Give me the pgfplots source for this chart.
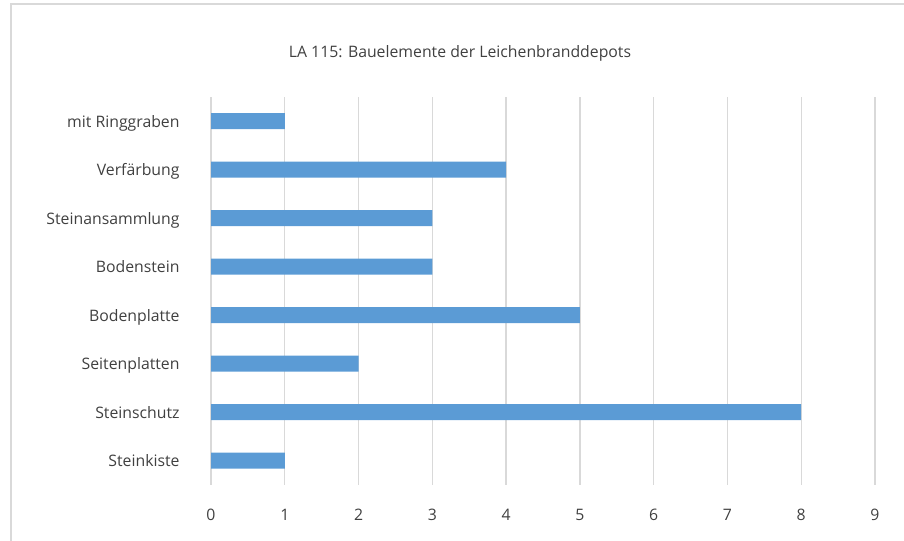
\documentclass[border=0pt]{standalone}
\usepackage{fontspec}
\setmainfont{Open Sans}
\usepackage{pgfplots}
\pgfplotsset{compat=1.18}
\definecolor{barblue}{HTML}{5B9BD5}
\definecolor{gridgray}{HTML}{D9D9D9}
\definecolor{txt}{HTML}{404040}
\begin{document}
\begin{tikzpicture}[x=1bp,y=1bp]
\useasboundingbox (0,0) rectangle (904,541);
\draw[gridgray, line width=1.5bp] (11,0) -- (11,537) -- (904,537);
\node[txt, font=\fontsize{15.8bp}{18bp}\selectfont] at (460,488) {LA 115: Bauelemente der Leichenbranddepots};
\begin{axis}[
  at={(211bp,56bp)}, anchor=south west, scale only axis,
  width=664bp, height=388bp,
  xbar, bar width=16bp,
  xmin=0, xmax=9, ymin=-0.5, ymax=7.5,
  xtick={0,...,9}, ytick={0,...,7},
  yticklabels={Steinkiste,Steinschutz,Seitenplatten,Bodenplatte,Bodenstein,Steinansammlung,Verfärbung,mit Ringgraben},
  xmajorgrids, major grid style={gridgray, line width=1.3bp},
  axis line style={draw=none}, tick style={draw=none},
  /pgf/number format/assume math mode=true,
  ticklabel style={txt, font=\fontsize{15.8bp}{18bp}\selectfont, inner sep=0pt},
  xticklabel style={anchor=base, yshift=-36bp},
  yticklabel style={anchor=base east, xshift=-27bp, yshift=-6bp},
]
\addplot[fill=barblue, draw=none] coordinates {(1,0) (8,1) (2,2) (5,3) (3,4) (3,5) (4,6) (1,7)};
\end{axis}
\end{tikzpicture}
\end{document}
